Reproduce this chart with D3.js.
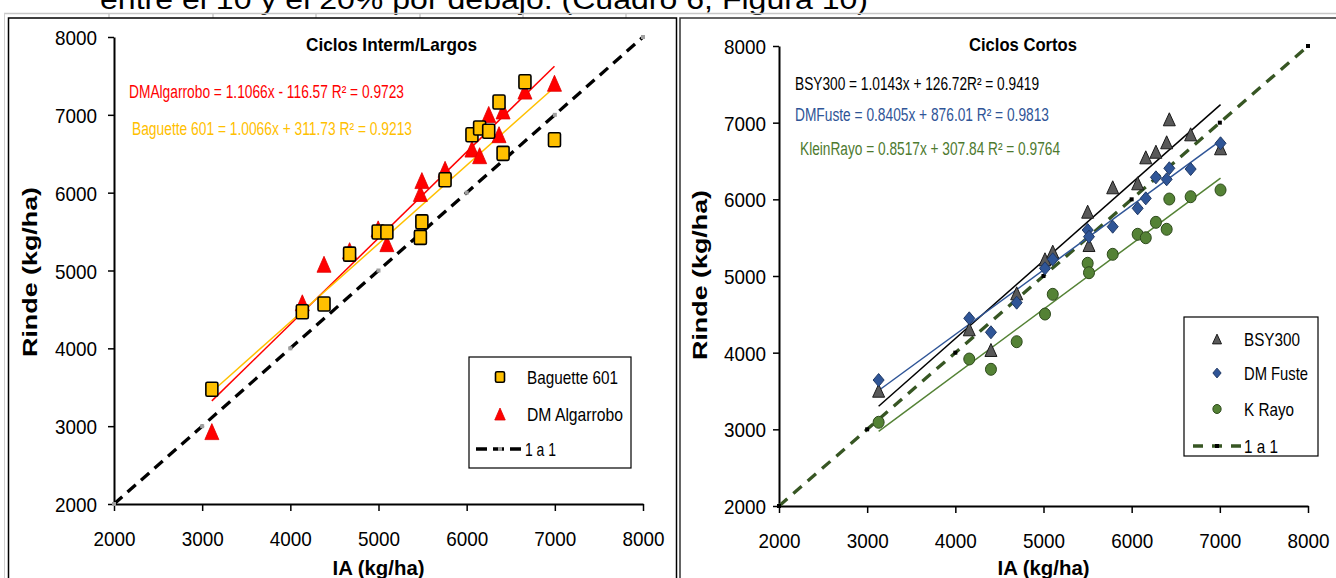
<!DOCTYPE html>
<html><head><meta charset="utf-8">
<script src="https://cdn.jsdelivr.net/npm/d3@7"></script>
<style>
body{margin:0;background:#fff;}
svg{display:block;}
</style></head><body>
<svg id="c" width="1336" height="578"></svg>
<script>
// ---------------- DATA ----------------
const tickValues = [2000, 3000, 4000, 5000, 6000, 7000, 8000];
const unoAUno = [2000, 3000, 4000, 5000, 6000, 7000, 8000];

// Ciclos Interm/Largos
const iaLargos    = [3110, 4136, 4382, 4672, 4996, 5095, 5475, 5492, 5755, 6060, 6147, 6250, 6367, 6413, 6661, 6996];
const baguette601 = [3475, 4470, 4570, 5210, 5495, 5495, 5425, 5625, 6165, 6745, 6830, 6790, 7165, 6505, 7425, 6680];
const dmAlgarrobo = [2930, 4585, 5080, 5255, 5535, 5345, 5990, 6155, 6300, 6560, 6475, 7005, 6745, 7050, 7305, 7405];

// Ciclos Cortos
const iaCortos = [3130, 4158, 4404, 4696, 5017, 5105, 5501, 5516, 5785, 6068, 6160, 6275, 6397, 6427, 6669, 7008];
const bsy300   = [3504, 4305, 4035, 4774, 5218, 5317, 5839, 5404, 6157, 6209, 6548, 6621, 6744, 7044, 6848, 6666];
const dmFuste  = [3643, 4448, 4266, 4652, 5100, 5218, 5600, 5513, 5643, 5883, 6013, 6287, 6261, 6405, 6395, 6731];
const kRayo    = [3092, 3917, 3783, 4143, 4504, 4761, 5166, 5043, 5283, 5544, 5499, 5700, 5609, 6004, 6034, 6122];

const titles = ["Ciclos Interm/Largos", "Ciclos Cortos"];
const eqLargos = ["DMAlgarrobo = 1.1066x - 116.57 R² = 0.9723", "Baguette 601 = 1.0066x + 311.73 R² = 0.9213"];
const fitLargos = [[1.1066, -116.57], [1.0066, 311.73]];
const eqCortos = ["BSY300 = 1.0143x + 126.72R² = 0.9419", "DMFuste = 0.8405x + 876.01 R² = 0.9813", "KleinRayo = 0.8517x + 307.84 R² = 0.9764"];
const fitCortos = [[1.0143, 126.72], [0.8405, 876.01], [0.8517, 307.84]];
const legLargos = ["Baguette 601", "DM Algarrobo", "1 a 1"];
const legCortos = ["BSY300", "DM Fuste", "K Rayo", "1 a 1"];
const xTitle = "IA (kg/ha)";
const yTitle = "Rinde (kg/ha)";
const topText = "entre el 10 y el 20% por debajo. (Cuadro 6, Figura 10)";

// ---------------- DRAW ----------------
const svg = d3.select("#c");
const NARROW = "'Liberation Sans Narrow','Arial Narrow','Liberation Sans',Arial,sans-serif";
const SANS = "'Liberation Sans',Arial,sans-serif";

svg.append("rect").attr("width", 1336).attr("height", 578).attr("fill", "#fff");

// document text behind (cut off at the top, as in the source page)
svg.append("text").attr("x", 100).attr("y", 9).attr("font-family", SANS).attr("font-size", 28)
  .attr("textLength", 768).attr("lengthAdjust", "spacingAndGlyphs").attr("fill", "#000").text(topText);
// faint document table lines
svg.append("line").attr("x1", 4).attr("x2", 1336).attr("y1", 13.5).attr("y2", 13.5).attr("stroke", "#c8c8c8").attr("stroke-width", 1.5);
[109, 213, 316, 420, 523, 626].forEach(xv => svg.append("line").attr("x1", xv).attr("x2", xv).attr("y1", 13).attr("y2", 18).attr("stroke", "#c8c8c8").attr("stroke-width", 1.5));
svg.append("line").attr("x1", 4.5).attr("x2", 4.5).attr("y1", 13).attr("y2", 578).attr("stroke", "#d0d0d0").attr("stroke-width", 1);

// shapes
const tri = (w, h) => `M0,${-h/2}L${w/2},${h/2}L${-w/2},${h/2}Z`;
const dia = (w, h) => `M0,${-h/2}L${w/2},0L0,${h/2}L${-w/2},0Z`;

function addMarker(g, type, cx, cy, s) {
  if (type === "square") {
    g.append("rect").attr("x", cx - 6*s).attr("y", cy - 7*s).attr("width", 12*s).attr("height", 14*s).attr("rx", 1.5)
      .attr("fill", "#FFC000").attr("stroke", "#000").attr("stroke-width", 1.6);
  } else if (type === "redtri") {
    g.append("path").attr("d", tri(14*s, 16*s)).attr("transform", `translate(${cx},${cy})`)
      .attr("fill", "#FF0000").attr("stroke", "#E00000").attr("stroke-width", 0.8);
  } else if (type === "graytri") {
    g.append("path").attr("d", tri(12*s, 13*s)).attr("transform", `translate(${cx},${cy})`)
      .attr("fill", "#595959").attr("stroke", "#1a1a1a").attr("stroke-width", 1);
  } else if (type === "diamond") {
    g.append("path").attr("d", dia(11*s, 13*s)).attr("transform", `translate(${cx},${cy})`)
      .attr("fill", "#2F5597").attr("stroke", "#1F3864").attr("stroke-width", 1);
  } else if (type === "circle") {
    g.append("ellipse").attr("cx", cx).attr("cy", cy).attr("rx", 5.5*s).attr("ry", 6*s)
      .attr("fill", "#548235").attr("stroke", "#2E4A1C").attr("stroke-width", 1);
  }
}

function panel(o) {
  const g = svg.append("g");
  // frame
  g.append("rect").attr("x", o.frame[0]).attr("y", o.frame[1]).attr("width", o.frame[2]).attr("height", o.frame[3])
    .attr("fill", "#fff").attr("stroke", o.frameColor).attr("stroke-width", 1.5);

  const x = d3.scaleLinear().domain([2000, 8000]).range([o.x0, o.x1]);
  const y = d3.scaleLinear().domain([2000, 8000]).range([o.y0, o.y1]);

  // axes
  const ax = g.append("g").attr("transform", `translate(0,${o.y0})`)
    .call(d3.axisBottom(x).tickValues(tickValues).tickFormat(d3.format("d")).tickSize(7).tickSizeOuter(0).tickPadding(20));
  const ay = g.append("g").attr("transform", `translate(${o.x0},0)`)
    .call(d3.axisLeft(y).tickValues(tickValues).tickFormat(d3.format("d")).tickSize(6).tickSizeOuter(0).tickPadding(o.yPad));
  [ax, ay].forEach(a => {
    a.select(".domain").attr("stroke", "#000").attr("stroke-width", 2);
    a.selectAll(".tick line").attr("stroke", "#000").attr("stroke-width", 1.5);
    a.selectAll(".tick text").attr("font-family", NARROW).attr("font-size", 21).attr("fill", "#000")
      .attr("textLength", 42).attr("lengthAdjust", "spacingAndGlyphs");
  });
  ay.selectAll(".tick text").attr("dy", "0.36em");

  // 1:1 line
  g.append("path").datum(unoAUno)
    .attr("d", d3.line().x(d => x(d)).y(d => y(d)))
    .attr("fill", "none").attr("stroke", o.oneColor).attr("stroke-width", 3.3).attr("stroke-dasharray", o.oneDash);
  unoAUno.forEach(v => g.append("rect").attr("x", x(v) - 2).attr("y", y(v) - 2).attr("width", 4).attr("height", 4)
    .attr("fill", o.oneMarker));

  // trend lines
  o.series.forEach(s => {
    const [m, b] = s.fit;
    const xs = d3.extent(s.xs);
    g.append("line").attr("x1", x(xs[0])).attr("y1", y(m*xs[0] + b)).attr("x2", x(xs[1])).attr("y2", y(m*xs[1] + b))
      .attr("stroke", s.line).attr("stroke-width", 1.5);
  });
  // points
  o.series.forEach(s => {
    s.xs.forEach((xv, i) => addMarker(g, s.marker, x(xv), y(s.ys[i]), 1));
  });

  // title
  g.append("text").attr("x", o.title[1]).attr("y", o.title[2]).attr("font-family", SANS).attr("font-weight", "bold")
    .attr("font-size", 19).attr("textLength", o.title[3]).attr("lengthAdjust", "spacingAndGlyphs").text(o.title[0]);
  // equations
  o.eqs.forEach(e => g.append("text").attr("x", e.x).attr("y", e.y).attr("font-family", NARROW).attr("font-size", 18)
    .attr("fill", e.color).attr("textLength", e.w).attr("lengthAdjust", "spacingAndGlyphs").text(e.t));

  // axis titles
  g.append("text").attr("x", (o.x0 + o.x1)/2).attr("y", 575).attr("text-anchor", "middle").attr("font-family", SANS)
    .attr("font-weight", "bold").attr("font-size", 20).attr("textLength", 92).attr("lengthAdjust", "spacingAndGlyphs").text(xTitle);
  g.append("text").attr("transform", `translate(${o.yTitleX},${o.yTitleY}) rotate(-90)`).attr("text-anchor", "middle")
    .attr("font-family", SANS).attr("font-weight", "bold").attr("font-size", 20)
    .attr("textLength", 170).attr("lengthAdjust", "spacingAndGlyphs").text(yTitle);

  // legend
  const L = o.legend;
  g.append("rect").attr("x", L.box[0]).attr("y", L.box[1]).attr("width", L.box[2]).attr("height", L.box[3])
    .attr("fill", "#fff").attr("stroke", "#000").attr("stroke-width", 1.2);
  L.items.forEach((it, i) => {
    const yy = L.ys[i];
    if (it.marker === "line") {
      g.append("line").attr("x1", L.lineX[0]).attr("x2", L.lineX[1]).attr("y1", yy).attr("y2", yy)
        .attr("stroke", o.oneColor).attr("stroke-width", 3.3).attr("stroke-dasharray", L.lineDash);
      g.append("rect").attr("x", L.mx - 2).attr("y", yy - 2).attr("width", 4).attr("height", 4).attr("fill", o.oneMarker);
      g.append("text").attr("x", L.lineX[1] + 3).attr("y", yy).attr("dy", "0.36em").attr("font-family", NARROW)
        .attr("font-size", 19).attr("textLength", L.widths[i]).attr("lengthAdjust", "spacingAndGlyphs").text(it.label);
    } else {
      addMarker(g, it.marker, L.mx, yy, 0.75);
      g.append("text").attr("x", L.tx).attr("y", yy).attr("dy", "0.36em").attr("font-family", NARROW)
        .attr("font-size", 19).attr("textLength", L.widths[i]).attr("lengthAdjust", "spacingAndGlyphs").text(it.label);
    }
  });
}

panel({
  frame: [8.5, 18, 668, 570], frameColor: "#000",
  x0: 114, x1: 643, y0: 504, y1: 37, yPad: 11,
  oneColor: "#000", oneDash: "11,7", oneMarker: "#a0a0a0",
  series: [
    {xs: iaLargos, ys: dmAlgarrobo, fit: fitLargos[0], line: "#FF0000", marker: "redtri"},
    {xs: iaLargos, ys: baguette601, fit: fitLargos[1], line: "#FFC000", marker: "square"}
  ],
  title: [titles[0], 306, 51, 171],
  eqs: [
    {t: eqLargos[0], x: 129, y: 98, w: 275, color: "#FF0000"},
    {t: eqLargos[1], x: 132, y: 135, w: 280, color: "#FFC000"}
  ],
  yTitleX: 37, yTitleY: 272,
  legend: {
    box: [469, 357, 162, 111], mx: 500, tx: 527, ys: [377, 414, 449],
    lineX: [476, 522], lineDash: "11,6", widths: [91, 96, 31],
    items: [{marker: "square", label: legLargos[0]}, {marker: "redtri", label: legLargos[1]}, {marker: "line", label: legLargos[2]}]
  }
});

panel({
  frame: [680, 18, 660, 570], frameColor: "#333",
  x0: 779, x1: 1308, y0: 506, y1: 46, yPad: 7,
  oneColor: "#375623", oneDash: "11,8", oneMarker: "#000",
  series: [
    {xs: iaCortos, ys: bsy300, fit: fitCortos[0], line: "#000", marker: "graytri"},
    {xs: iaCortos, ys: dmFuste, fit: fitCortos[1], line: "#2F5597", marker: "diamond"},
    {xs: iaCortos, ys: kRayo, fit: fitCortos[2], line: "#548235", marker: "circle"}
  ],
  title: [titles[1], 969, 51, 108],
  eqs: [
    {t: eqCortos[0], x: 795, y: 90, w: 244, color: "#000"},
    {t: eqCortos[1], x: 795, y: 121, w: 254, color: "#2F5597"},
    {t: eqCortos[2], x: 800, y: 155, w: 260, color: "#4E7A2F"}
  ],
  yTitleX: 707, yTitleY: 275,
  legend: {
    box: [1184, 317, 134, 139], mx: 1217, tx: 1244, ys: [339, 373, 409, 446],
    lineX: [1193, 1241], lineDash: "10,9", widths: [56, 64, 50, 34],
    items: [{marker: "graytri", label: legCortos[0]}, {marker: "diamond", label: legCortos[1]}, {marker: "circle", label: legCortos[2]}, {marker: "line", label: legCortos[3]}]
  }
});
</script>
</body></html>
